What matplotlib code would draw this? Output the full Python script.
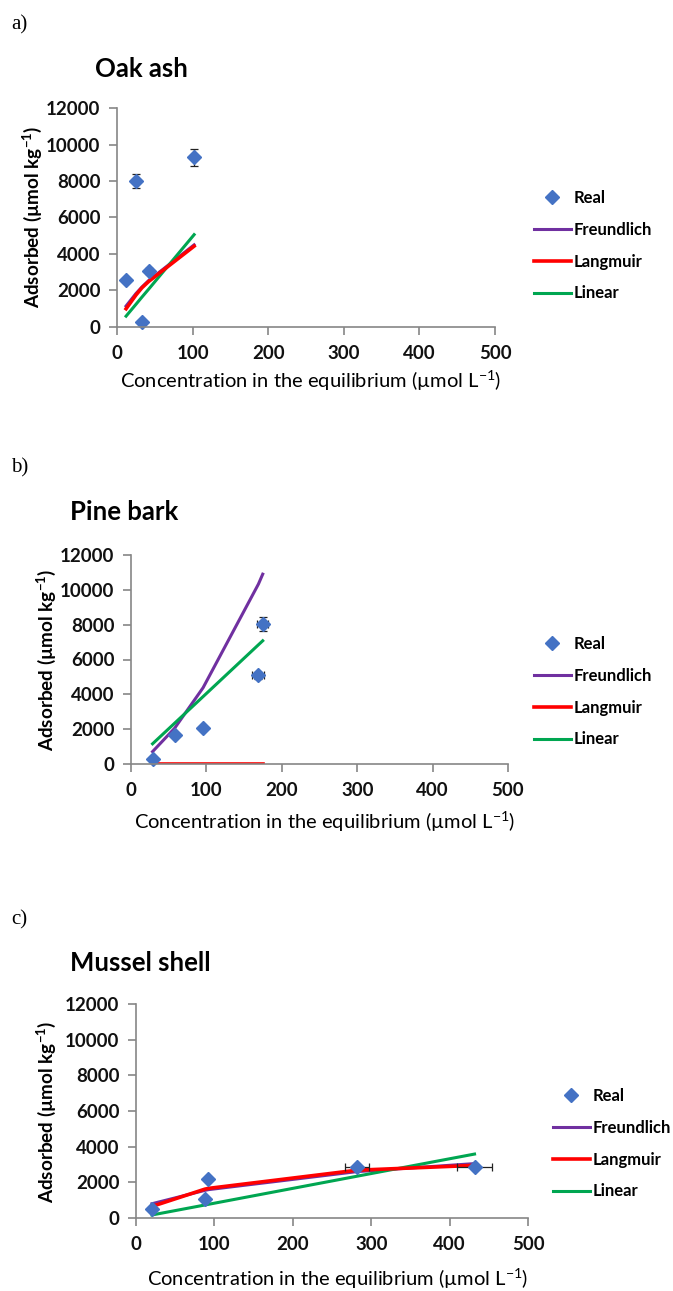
import matplotlib
matplotlib.use("Agg")
import matplotlib.pyplot as plt
from matplotlib.lines import Line2D

plt.rcParams['font.family'] = ['Lato', 'DejaVu Sans']
plt.rcParams['mathtext.fontset'] = 'custom'
plt.rcParams['mathtext.rm'] = 'Lato'
plt.rcParams['mathtext.bf'] = 'Lato:bold'

#####################################################
# data

# a) Oak ash
oak_x = [12, 25, 33, 42, 102]
oak_real = [2600, 8000, 270, 3080, 9290]
oak_yerr = [0, 400, 0, 150, 450]
oak_xerr = [0, 0, 0, 0, 0]
oak_freund = [1150, 1830, 2190, 2550, 4500]
oak_lang = [1000, 1750, 2150, 2500, 4430]
oak_lin = [595, 1240, 1640, 2080, 5060]

# b) Pine bark
pine_x = [28.6, 57.8, 95.6, 169, 174.7]
pine_real = [290, 1690, 2090, 5090, 8040]
pine_yerr = [0, 0, 0, 200, 400]
pine_xerr = [0, 0, 0, 8, 7]
pine_freund = [710, 2050, 4380, 10330, 10900]
pine_lang = [0, 0, 0, 0, 0]
pine_lin = [1160, 2340, 3870, 6845, 7075]

# c) Mussel shell
mus_x = [20.4, 88, 92.4, 281.6, 431.8]
mus_real = [505, 1085, 2170, 2840, 2840]
mus_yerr = [0, 0, 0, 0, 0]
mus_xerr = [0, 0, 0, 15, 22]
mus_freund = [800, 1550, 1590, 2600, 3050]
mus_lang = [650, 1620, 1660, 2680, 2950]
mus_lin = [170, 730, 767, 2340, 3585]

titles = ['Oak ash', 'Pine bark', 'Mussel shell']
panel_tags = ['a)', 'b)', 'c)']
legend_names = ['Real', 'Freundlich', 'Langmuir', 'Linear']

#####################################################

W, H = 673, 1291
fig = plt.figure(figsize=(W / 100, H / 100), dpi=100)

def fx(px):
    return px / W

def fy(py):
    return 1 - py / H

BLUE = '#4472C4'
PURPLE = '#7030A0'
RED = '#FF0000'
GREEN = '#00A651'
GREY = '#868686'

# axes box in pixels: left, right, top, bottom
boxes = [(117, 495, 108, 327), (131, 508, 555, 764), (136, 528, 1004, 1218)]
title_pos = [(95, 69), (70, 512), (70, 963)]
tag_pos = [(11, 25), (11, 468), (11, 920)]
ylab_pos = [(32, 217), (46, 660), (46, 1112)]
xlab_pos = [(311, 381), (325, 822), (338, 1279)]
leg_pos = [(534, 190), (534, 636), (553, 1088)]

datasets = [
    (oak_x, oak_real, oak_xerr, oak_yerr, oak_freund, oak_lang, oak_lin),
    (pine_x, pine_real, pine_xerr, pine_yerr, pine_freund, pine_lang, pine_lin),
    (mus_x, mus_real, mus_xerr, mus_yerr, mus_freund, mus_lang, mus_lin),
]

for i, (x, real, xerr, yerr, fr, la, li) in enumerate(datasets):
    l, r, t, b = boxes[i]
    ax = fig.add_axes([fx(l), fy(b), (r - l) / W, (b - t) / H])

    ax.plot(x, fr, color=PURPLE, lw=2.2, zorder=3)
    ax.plot(x, la, color=RED, lw=2.6, zorder=4)
    ax.plot(x, li, color=GREEN, lw=2.2, zorder=3)
    ax.errorbar(x, real, xerr=xerr, yerr=yerr, fmt='none', ecolor='#222222',
                elinewidth=0.9, capsize=3, capthick=0.9, zorder=5)
    ax.plot(x, real, 'D', color=BLUE, ms=7.5, ls='none', zorder=6, clip_on=False)

    ax.set_xlim(0, 500)
    ax.set_ylim(0, 12000)
    ax.set_xticks(range(0, 501, 100))
    ax.set_yticks(range(0, 12001, 2000))
    for s in ['top', 'right']:
        ax.spines[s].set_visible(False)
    for s in ['left', 'bottom']:
        ax.spines[s].set_color(GREY)
        ax.spines[s].set_linewidth(1.2)
        ax.spines[s].set_zorder(7)
    ax.tick_params(direction='out', length=6, width=1.2, color=GREY,
                   labelsize=13.5)
    ax.tick_params(axis='y', pad=6)
    ax.tick_params(axis='x', pad=7)
    for lab in ax.get_xticklabels() + ax.get_yticklabels():
        lab.set_fontweight('bold')
        lab.set_color('#111111')

    fig.text(fx(title_pos[i][0]), fy(title_pos[i][1]), titles[i],
             fontsize=18.5, fontweight='bold', va='center', ha='left')
    fig.text(fx(tag_pos[i][0]), fy(tag_pos[i][1]), panel_tags[i],
             fontsize=15, family='Liberation Serif', va='center', ha='left')
    fig.text(fx(ylab_pos[i][0]), fy(ylab_pos[i][1]),
             r'Adsorbed (µmol kg$^{\mathbf{-1}}$)', rotation=90,
             fontsize=13.6, fontweight='bold', va='center', ha='center')
    fig.text(fx(xlab_pos[i][0]), fy(xlab_pos[i][1]),
             r'Concentration in the equilibrium (µmol L$^{-1}$)',
             fontsize=14.5, va='center', ha='center')

    handles = [
        Line2D([], [], marker='D', color=BLUE, ls='none', ms=7.5),
        Line2D([], [], color=PURPLE, lw=2.2),
        Line2D([], [], color=RED, lw=2.6),
        Line2D([], [], color=GREEN, lw=2.2),
    ]
    leg = fig.legend(handles, legend_names, loc='upper left',
                     bbox_to_anchor=(fx(leg_pos[i][0]), fy(leg_pos[i][1])),
                     frameon=False, fontsize=12, handlelength=2.2,
                     handletextpad=0.15, labelspacing=0.95, borderpad=0,
                     borderaxespad=0)
    for txt in leg.get_texts():
        txt.set_fontweight('bold')

fig.savefig('out.png', dpi=100)
